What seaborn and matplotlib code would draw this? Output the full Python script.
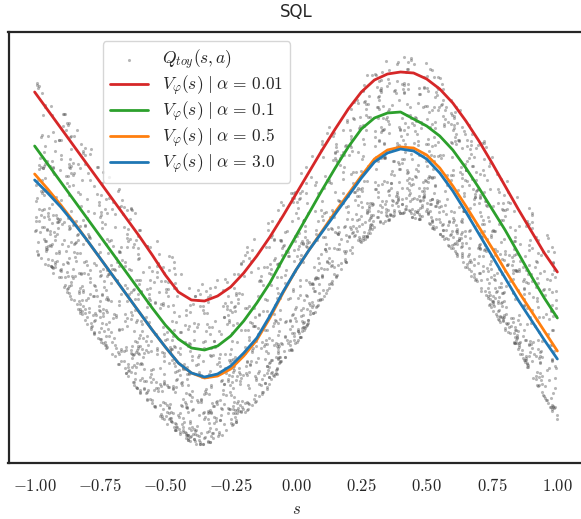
import numpy as np
import matplotlib
matplotlib.use("Agg")
import matplotlib.pyplot as plt
import seaborn as sns
from matplotlib.ticker import FuncFormatter, FixedLocator

# ---- data (y in arbitrary value units) ----
s_knots = [-1.00, -0.95, -0.90, -0.85, -0.80, -0.75, -0.70, -0.65, -0.60, -0.55, -0.50,
           -0.45, -0.40, -0.35, -0.30, -0.25, -0.20, -0.15, -0.10, -0.05, 0.00,
           0.05, 0.10, 0.15, 0.20, 0.25, 0.30, 0.35, 0.40, 0.45, 0.50,
           0.55, 0.60, 0.65, 0.70, 0.75, 0.80, 0.85, 0.90, 0.95, 1.00]
v_alpha_001 = [1.58, 1.40, 1.22, 1.04, 0.86, 0.68, 0.50, 0.32, 0.14, -0.05, -0.25,
               -0.42, -0.50, -0.51, -0.46, -0.37, -0.23, -0.06, 0.13, 0.34, 0.56,
               0.78, 1.00, 1.21, 1.41, 1.58, 1.70, 1.76, 1.78, 1.77, 1.71,
               1.61, 1.47, 1.29, 1.09, 0.87, 0.64, 0.41, 0.19, -0.03, -0.22]
v_alpha_01 = [1.04, 0.86, 0.68, 0.50, 0.32, 0.14, -0.04, -0.22, -0.40, -0.58, -0.75,
              -0.89, -0.98, -1.00, -0.96, -0.86, -0.71, -0.53, -0.33, -0.09, 0.14,
              0.37, 0.60, 0.82, 1.03, 1.21, 1.32, 1.37, 1.38, 1.31, 1.24,
              1.14, 1.00, 0.82, 0.62, 0.41, 0.20, -0.03, -0.26, -0.48, -0.68]
v_alpha_05 = [0.76, 0.61, 0.45, 0.28, 0.10, -0.08, -0.26, -0.44, -0.62, -0.80, -0.97,
              -1.13, -1.23, -1.28, -1.26, -1.19, -1.06, -0.90, -0.68, -0.43, -0.20,
              0.00, 0.19, 0.38, 0.56, 0.74, 0.91, 1.00, 1.03, 1.02, 0.95,
              0.82, 0.64, 0.44, 0.23, 0.02, -0.20, -0.41, -0.61, -0.81, -1.01]
v_alpha_3 = [0.70, 0.57, 0.43, 0.27, 0.10, -0.08, -0.26, -0.44, -0.62, -0.80, -0.97,
             -1.13, -1.23, -1.27, -1.24, -1.16, -1.03, -0.88, -0.66, -0.42, -0.20,
             0.00, 0.18, 0.36, 0.54, 0.72, 0.88, 0.97, 1.01, 0.99, 0.91,
             0.77, 0.59, 0.38, 0.16, -0.06, -0.28, -0.50, -0.70, -0.90, -1.09]

# extent of the Q_toy(s, a) sample cloud
band_s = [-1.0, -0.9, -0.8, -0.7, -0.6, -0.5, -0.4, -0.35, -0.3, -0.2, -0.1,
          0.0, 0.1, 0.2, 0.3, 0.4, 0.5, 0.6, 0.7, 0.8, 0.9, 1.0]
band_upper = [1.70, 1.42, 1.08, 0.70, 0.32, 0.00, -0.25, -0.32, -0.28, 0.00, 0.35,
              0.70, 1.12, 1.52, 1.85, 1.98, 1.88, 1.58, 1.22, 0.80, 0.40, 0.05]
band_lower = [-0.02, -0.32, -0.75, -1.07, -1.42, -1.73, -1.93, -1.95, -1.90, -1.65, -1.35,
              -0.95, -0.50, -0.08, 0.22, 0.37, 0.28, 0.00, -0.38, -0.80, -1.25, -1.70]
n_samples = 2600

x_ticks = [-1.0, -0.75, -0.5, -0.25, 0.0, 0.25, 0.5, 0.75, 1.0]
series_labels = [r"$V_{\varphi}(s)\;|\;\alpha\,=\,0.01$", r"$V_{\varphi}(s)\;|\;\alpha\,=\,0.1$",
                 r"$V_{\varphi}(s)\;|\;\alpha\,=\,0.5$", r"$V_{\varphi}(s)\;|\;\alpha\,=\,3.0$"]
series_colors = ["#d62728", "#2ca02c", "#ff7f0e", "#1f77b4"]

# ---- style ----
sns.set_theme(style="white", context="notebook")
plt.rcParams["font.family"] = ["DejaVu Sans"]
plt.rcParams["mathtext.fontset"] = "cm"
plt.rcParams["axes.edgecolor"] = "0.15"
plt.rcParams["axes.linewidth"] = 1.6

fig = plt.figure(figsize=(5.81, 5.19), dpi=100)
ax = fig.add_axes([8.5 / 581, 56 / 519, 575 / 581, 431 / 519])

# sample cloud
rng = np.random.default_rng(7)
ss = rng.uniform(-1, 1, n_samples)
lo = np.interp(ss, band_s, band_lower)
hi = np.interp(ss, band_s, band_upper)
frac = np.abs(rng.uniform(-1, 1, n_samples)) ** 1.7
qq = lo + frac * (hi - lo)
sns.scatterplot(x=ss, y=qq, s=5, color="0.3", alpha=0.4, linewidth=0, ax=ax,
                label=r"$Q_{toy}(s,a)$")

for vals, col, lab in zip([v_alpha_001, v_alpha_01, v_alpha_05, v_alpha_3],
                          series_colors, series_labels):
    sns.lineplot(x=s_knots, y=vals, color=col, lw=2.0, ax=ax, label=lab)

ax.set_xlim(-1.1, 1.1)
ax.set_ylim(-2.13, 2.18)
ax.xaxis.set_major_locator(FixedLocator(x_ticks))
ax.xaxis.set_major_formatter(FuncFormatter(lambda v, p: f"${v:.2f}$"))
ax.set_yticks([])
ax.tick_params(axis="x", labelsize=12, bottom=False, pad=4)
ax.set_xlabel(r"$s$", fontsize=12, labelpad=4)
ax.set_ylabel("")
ax.set_title("SQL", fontsize=12, pad=10.5)

leg = ax.legend(loc="upper left", bbox_to_anchor=(0.164, 0.979), borderaxespad=0,
                fontsize=12.5, handlelength=2.2, labelspacing=0.1, markerscale=1.0)

fig.savefig("out.png", dpi=100)
